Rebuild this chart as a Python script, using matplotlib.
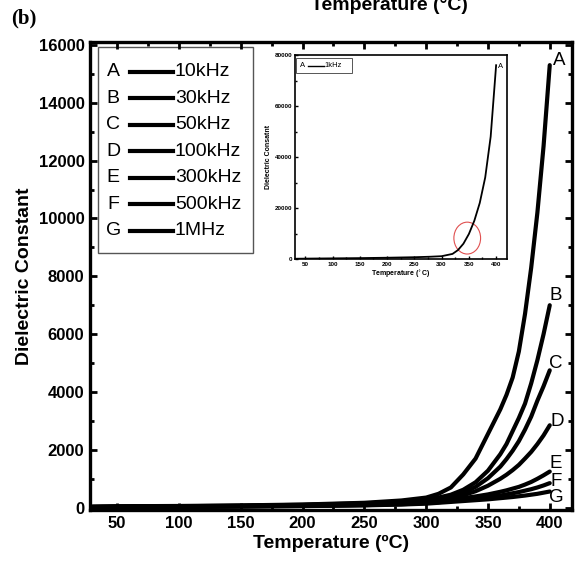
import matplotlib.pyplot as plt
from matplotlib.patches import Rectangle, Ellipse
from matplotlib.lines import Line2D
from matplotlib.ticker import MultipleLocator

plt.rcParams['font.family'] = ['Liberation Sans', 'DejaVu Sans']

# main panel: dielectric constant vs temperature at several frequencies
temps = [30, 50, 100, 150, 200, 250, 280, 300, 310, 320, 330, 340, 350, 360, 365, 370, 375, 380, 385, 390, 395, 400]
eps_A = [40, 50, 60, 80, 110, 170, 250, 350, 480, 700, 1150, 1700, 2550, 3400, 3900, 4500, 5400, 6700, 8300, 10200, 12500, 15300]
eps_B = [30, 40, 50, 70, 100, 150, 210, 280, 350, 450, 620, 880, 1280, 1850, 2200, 2650, 3100, 3600, 4300, 5100, 6000, 7000]
eps_C = [25, 35, 45, 60, 90, 130, 180, 240, 300, 380, 520, 720, 1020, 1420, 1680, 1970, 2300, 2700, 3150, 3700, 4200, 4750]
eps_D = [20, 30, 40, 55, 80, 115, 160, 210, 260, 320, 430, 570, 760, 1000, 1140, 1300, 1480, 1700, 1930, 2200, 2500, 2850]
eps_E = [15, 25, 35, 50, 70, 100, 140, 180, 220, 270, 330, 390, 460, 550, 600, 660, 720, 800, 890, 1000, 1120, 1250]
eps_F = [10, 20, 30, 45, 60, 90, 120, 160, 190, 230, 270, 310, 360, 420, 460, 500, 540, 590, 640, 700, 770, 850]
eps_G = [5, 15, 25, 40, 55, 80, 110, 140, 170, 200, 230, 260, 290, 330, 350, 370, 395, 420, 450, 480, 520, 560]
series = [eps_A, eps_B, eps_C, eps_D, eps_E, eps_F, eps_G]
letters = ['A', 'B', 'C', 'D', 'E', 'F', 'G']
freqs = ['10kHz', '30kHz', '50kHz', '100kHz', '300kHz', '500kHz', '1MHz']
# where the curve letters sit (temperature, value)
label_pos = [(407.5, 15450), (405, 7330), (405, 4980), (406, 2970), (405, 1530), (405.5, 900), (405.5, 350)]

# inset: 1 kHz
temps_1k = [30, 50, 100, 150, 200, 250, 280, 300, 320, 330, 340, 350, 360, 370, 380, 390, 400]
eps_1k = [100, 150, 250, 350, 500, 700, 900, 1100, 2000, 3500, 6000, 9800, 15000, 22000, 32000, 48000, 76000]

fig = plt.figure(figsize=(5.78, 5.66), dpi=100)
ax = fig.add_axes([0.1557, 0.0989, 0.8339, 0.8269])

for vals in series:
    ax.plot(temps, vals, color='black', lw=3.0, solid_capstyle='round')
for let, (tx, ty) in zip(letters, label_pos):
    ax.text(tx, ty, let, fontsize=13.5, ha='center', va='center', clip_on=False)

ax.set_xlim(28, 418)
ax.set_ylim(-80, 16100)
ax.xaxis.set_major_locator(MultipleLocator(50))
ax.xaxis.set_minor_locator(MultipleLocator(25))
ax.yaxis.set_major_locator(MultipleLocator(2000))
ax.yaxis.set_minor_locator(MultipleLocator(1000))
ax.tick_params(which='both', direction='in', top=True, right=True, width=2)
ax.tick_params(which='major', length=5, labelsize=12, pad=4)
ax.tick_params(which='minor', length=3)
for lab in ax.get_xticklabels() + ax.get_yticklabels():
    lab.set_fontweight('bold')
for sp in ax.spines.values():
    sp.set_linewidth(2.4)
ax.set_xlabel('Temperature (ºC)', fontsize=14, fontweight='bold', labelpad=3)
ax.set_ylabel('Dielectric Constant', fontsize=14, fontweight='bold', labelpad=4)

# hand-made legend box
ax.add_patch(Rectangle((0.0166, 0.549), 0.3214, 0.440, transform=ax.transAxes,
                       fill=False, edgecolor='#555555', lw=1.0))
for i, (let, fq) in enumerate(zip(letters, freqs)):
    yy = 0.936 - i * 0.0566
    ax.text(0.048, yy, let, transform=ax.transAxes, fontsize=14, ha='center', va='center')
    ax.add_line(Line2D([0.083, 0.172], [yy, yy], transform=ax.transAxes, color='black', lw=3.0))
    ax.text(0.176, yy, fq, transform=ax.transAxes, fontsize=14, ha='left', va='center')

# inset
ins = fig.add_axes([0.5104, 0.5424, 0.3668, 0.3604])
ins.plot(temps_1k, eps_1k, color='black', lw=1.3)
ins.text(409, 75500, 'A', fontsize=5.5, ha='center', va='center')
ins.add_patch(Ellipse((347, 8200), 49, 12500, fill=False, edgecolor='#e05050', lw=0.8))
ins.set_xlim(31, 420)
ins.set_ylim(0, 80000)
ins.xaxis.set_major_locator(MultipleLocator(50))
ins.xaxis.set_minor_locator(MultipleLocator(25))
ins.yaxis.set_major_locator(MultipleLocator(20000))
ins.yaxis.set_minor_locator(MultipleLocator(10000))
ins.tick_params(which='both', direction='in', width=1, labelsize=4.5, pad=2)
ins.tick_params(which='major', length=2.5)
ins.tick_params(which='minor', length=1.5)
for lab in ins.get_xticklabels() + ins.get_yticklabels():
    lab.set_fontweight('bold')
for sp in ins.spines.values():
    sp.set_linewidth(1.2)
ins.set_xlabel('Temperature ($^{\\circ}$C)', fontsize=5, fontweight='bold', labelpad=1)
ins.set_ylabel('Dielectric Consatnt', fontsize=5, fontweight='bold', labelpad=2)
ins.add_patch(Rectangle((0.005, 0.912), 0.264, 0.073, transform=ins.transAxes,
                        fill=False, edgecolor='#555555', lw=0.7))
ins.text(0.035, 0.948, 'A', transform=ins.transAxes, fontsize=5.5, ha='center', va='center')
ins.add_line(Line2D([0.062, 0.135], [0.948, 0.948], transform=ins.transAxes, color='black', lw=1.0))
ins.text(0.138, 0.948, '1kHz', transform=ins.transAxes, fontsize=5.5, ha='left', va='center')

# panel tag and the cut-off caption of the panel above
fig.text(0.02, 0.967, '(b)', family='Liberation Serif', fontsize=15, fontweight='bold', va='center')
fig.text(0.673, 0.982, 'Temperature (°C)', fontsize=14, fontweight='bold', ha='center', va='baseline')

fig.savefig('out.png', dpi=100)
